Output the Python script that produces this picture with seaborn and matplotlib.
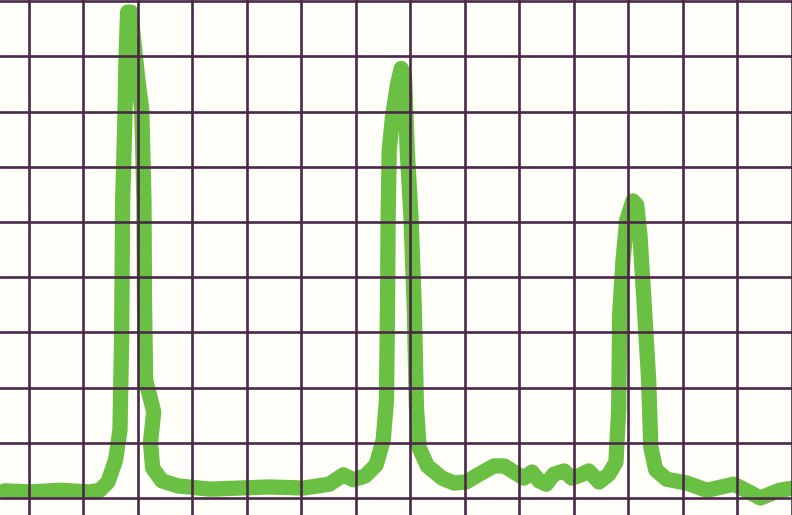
import numpy as np
import pandas as pd
import seaborn as sns
from matplotlib import pyplot as plt

# chart recorder trace, in grid divisions (x right, y up from the bottom grid line)
trace_x = [-0.45, 0.02, 0.57, 1.12, 1.30, 1.45, 1.59, 1.67, 1.70, 1.70,
           1.72, 1.76, 1.78, 1.81, 1.87, 1.92, 2.00, 2.07, 2.11, 2.12,
           2.14, 2.29, 2.23, 2.27, 2.44, 2.73, 3.32, 3.86, 4.41, 5.04,
           5.51, 5.77, 5.95, 6.17, 6.37, 6.50, 6.56, 6.58, 6.59, 6.61,
           6.67, 6.76, 6.83, 6.89, 6.94, 7.01, 7.07, 7.11, 7.16, 7.31,
           7.58, 7.80, 8.02, 8.26, 8.53, 8.72, 8.90, 9.08, 9.23, 9.36,
           9.49, 9.63, 9.82, 9.96, 10.13, 10.27, 10.46, 10.64, 10.77, 10.82,
           10.82, 10.84, 10.90, 10.97, 11.08, 11.15, 11.21, 11.28, 11.37, 11.41,
           11.50, 11.70, 12.07, 12.44, 12.93, 13.21, 13.42, 13.77, 14.03]
trace_y = [0.13, 0.11, 0.14, 0.11, 0.14, 0.29, 0.69, 1.23, 2.14, 3.59,
           5.40, 6.85, 7.93, 8.80, 8.80, 8.30, 7.57, 7.03, 5.40, 3.59,
           2.14, 1.56, 1.01, 0.54, 0.31, 0.22, 0.16, 0.18, 0.20, 0.18,
           0.25, 0.42, 0.33, 0.40, 0.60, 1.05, 1.78, 3.59, 5.09, 6.30,
           6.90, 7.48, 7.78, 7.66, 6.30, 5.09, 3.44, 1.63, 0.91, 0.58,
           0.36, 0.27, 0.29, 0.43, 0.58, 0.58, 0.47, 0.36, 0.47, 0.31,
           0.25, 0.43, 0.49, 0.36, 0.42, 0.49, 0.29, 0.43, 0.65, 1.05,
           2.14, 3.35, 4.31, 5.04, 5.38, 5.31, 4.76, 3.64, 2.14, 0.92,
           0.51, 0.34, 0.27, 0.14, 0.25, 0.11, 0.00, 0.14, 0.18]

grid_x = list(range(0, 15))
grid_y = list(range(0, 10))

df = pd.DataFrame({"x": trace_x, "y": trace_y})

sns.set_style("white")
fig = plt.figure(figsize=(7.92, 5.15), dpi=100)
fig.patch.set_facecolor("#fffef8")
ax = fig.add_axes([0, 0, 1, 1])
ax.set_facecolor("#fffef8")

sns.lineplot(data=df, x="x", y="y", sort=False, ax=ax, color="#69c042",
             linewidth=11, zorder=1, solid_joinstyle="round",
             solid_capstyle="round")

ax.set_xlim(-0.531, 13.974)
ax.set_ylim(-0.308, 9.02)
ax.set_xticks(grid_x)
ax.set_yticks(grid_y)
ax.set_axisbelow(False)
ax.grid(True, color="#4a2848", linewidth=1.9)
ax.tick_params(length=0, labelbottom=False, labelleft=False)
ax.set_xlabel("")
ax.set_ylabel("")
sns.despine(left=True, bottom=True)

plt.savefig("out.png", dpi=100)
